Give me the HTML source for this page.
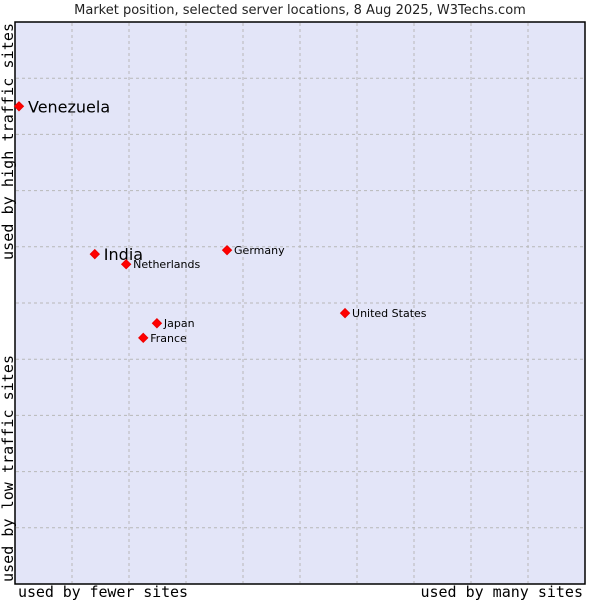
<!DOCTYPE html>
<html><head><meta charset="utf-8"><style>
body{margin:0;background:#fff;}
svg{display:block;font-family:"DejaVu Sans","Liberation Sans",sans-serif;}
</style></head><body>
<svg id="c" width="600" height="600">
<text x="300" y="14" text-anchor="middle" font-size="13" fill="#222">Market position, selected server locations, 8 Aug 2025, W3Techs.com</text>
<rect x="15" y="22" width="570" height="562" fill="#e3e5f8" stroke="#000" stroke-width="1.5"/>
<g id="grid"></g>
<g id="pts"></g>
<text x="18" y="597" font-family="DejaVu Sans Mono,Liberation Mono,monospace" font-size="15" textLength="170" fill="#000">used by fewer sites</text>
<text x="583" y="597" text-anchor="end" font-family="DejaVu Sans Mono,Liberation Mono,monospace" font-size="15" fill="#000">used by many sites</text>
<text transform="translate(13,582) rotate(-90)" font-family="DejaVu Sans Mono,Liberation Mono,monospace" font-size="15" textLength="227" fill="#000">used by low traffic sites</text>
<text transform="translate(13,260) rotate(-90)" font-family="DejaVu Sans Mono,Liberation Mono,monospace" font-size="15" textLength="237" fill="#000">used by high traffic sites</text>
</svg>
<script>
const names=["Venezuela","India","Netherlands","Germany","United States","Japan","France"];
const xs=[0.07,1.4,1.95,3.72,5.79,2.49,2.25];
const ys=[8.5,5.87,5.69,5.94,4.82,4.64,4.38];
const big=[true,true,false,false,false,false,false];
const ticks=[1,2,3,4,5,6,7,8,9];
const X=v=>15+57*v, Y=v=>584-56.2*v;
const NS="http://www.w3.org/2000/svg";
const g=document.getElementById('grid'), p=document.getElementById('pts');
ticks.forEach(t=>{
 const a=document.createElementNS(NS,'line');
 a.setAttribute('x1',X(t));a.setAttribute('x2',X(t));a.setAttribute('y1',23);a.setAttribute('y2',583);
 a.setAttribute('stroke','#b8b8b8');a.setAttribute('stroke-dasharray','3,3');
 
 
 g.appendChild(a);
 const b=document.createElementNS(NS,'line');
 b.setAttribute('y1',Y(t));b.setAttribute('y2',Y(t));b.setAttribute('x1',16);b.setAttribute('x2',584);
 b.setAttribute('stroke','#b8b8b8');b.setAttribute('stroke-dasharray','3,3');
 
 
 g.appendChild(b);
});
names.forEach((n,i)=>{
 const cx=X(xs[i]),cy=Y(ys[i]);
 const d=document.createElementNS(NS,'path');
 d.setAttribute('d',`M${cx} ${cy-4.5}L${cx+4.5} ${cy}L${cx} ${cy+4.5}L${cx-4.5} ${cy}Z`);
 d.setAttribute('fill','#f00');
 d.setAttribute('stroke','#e00');
 d.setAttribute('stroke-width','1');
 
 
 p.appendChild(d);
 const t=document.createElementNS(NS,'text');
 t.setAttribute('x',cx+(big[i]?9:7));t.setAttribute('y',cy+(big[i]?6:4));
 t.setAttribute('font-size',big[i]?16:11);t.setAttribute('fill','#000');
 t.textContent=n;
 
 
 p.appendChild(t);
});
</script>
</body></html>
